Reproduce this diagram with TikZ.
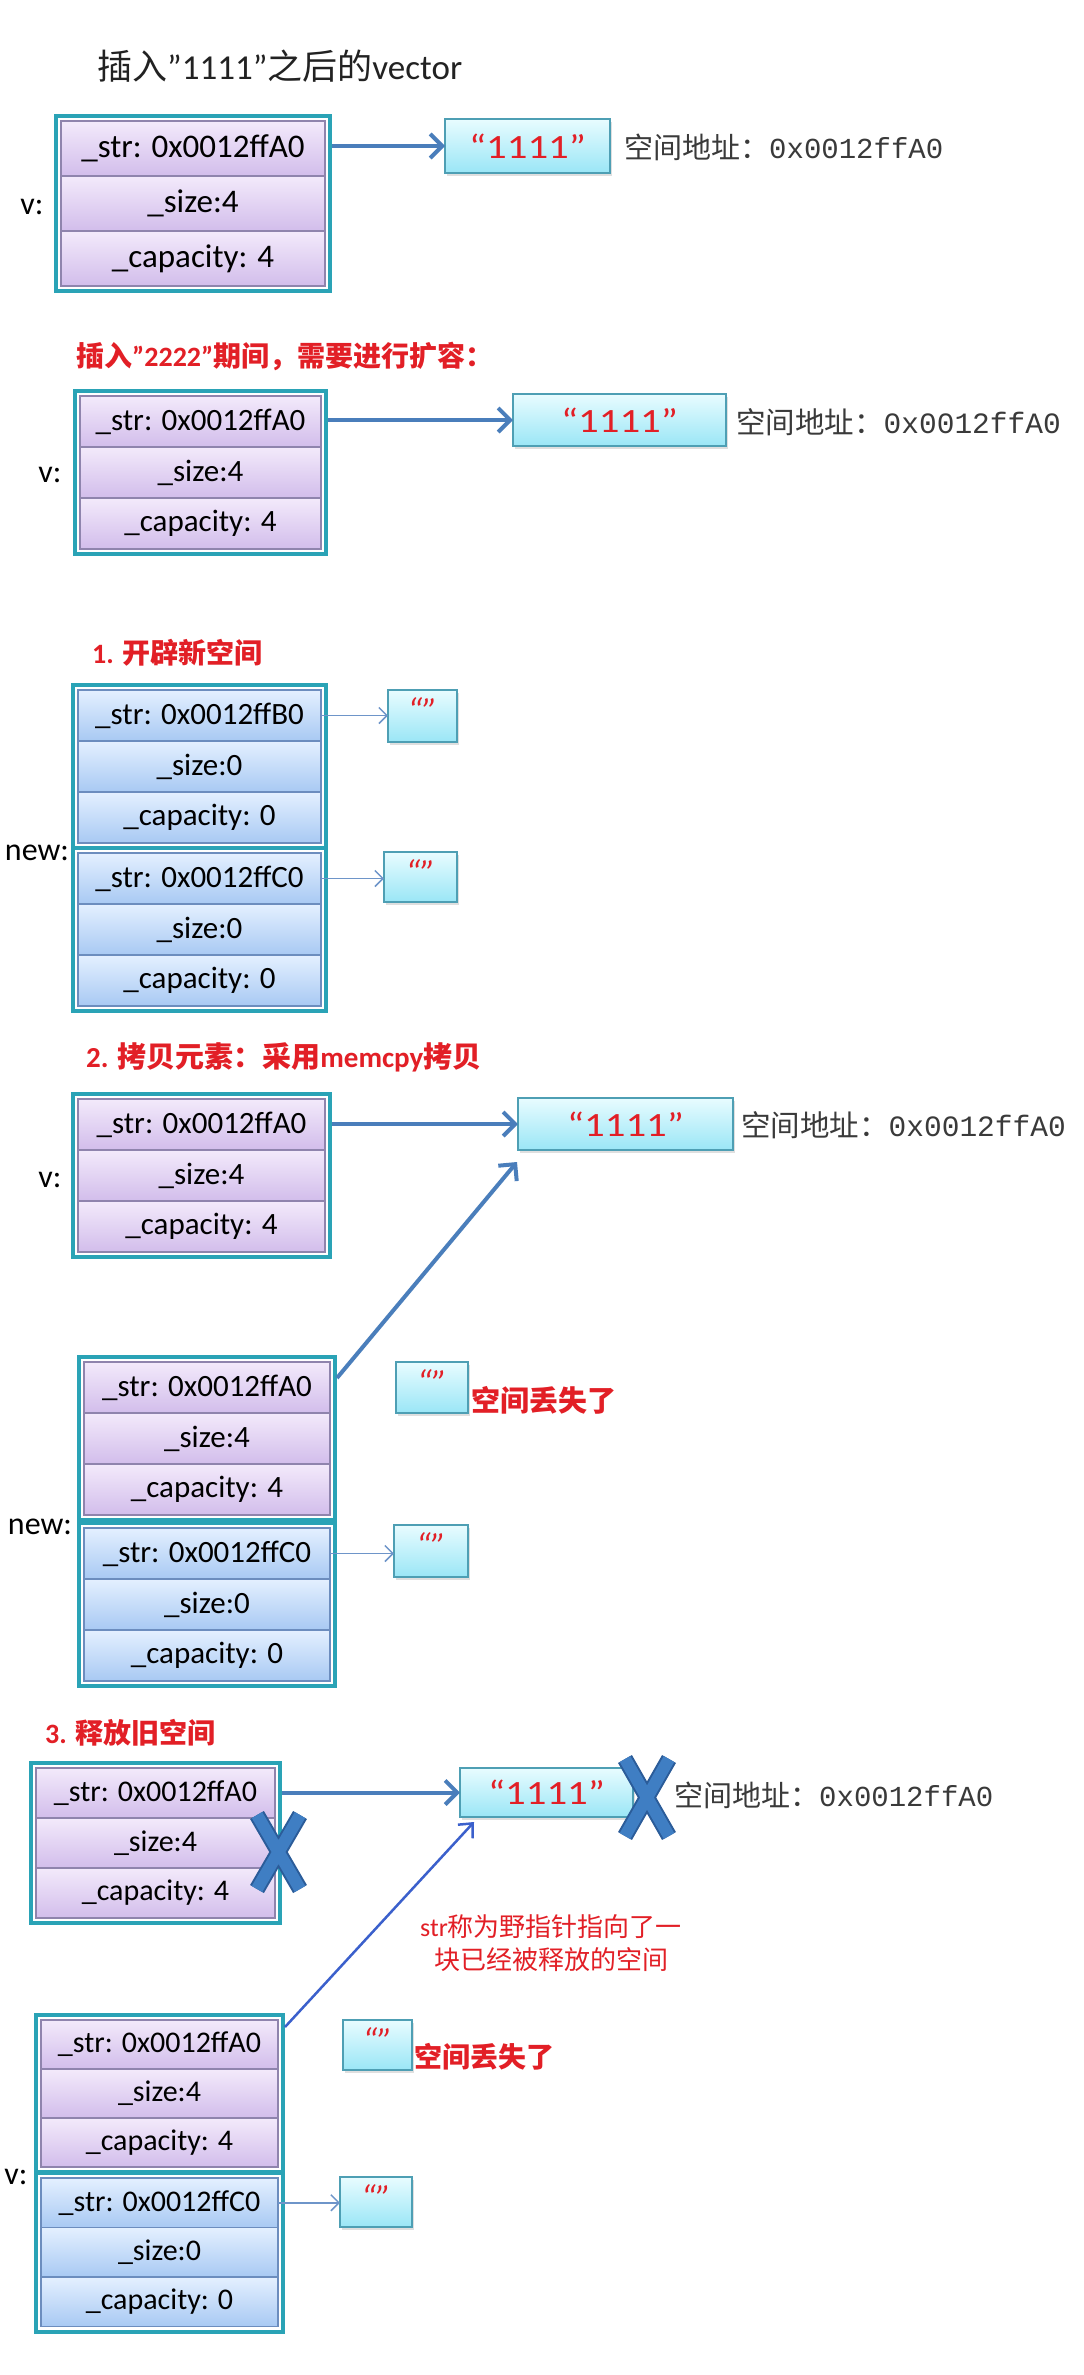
\documentclass[tikz,border=0pt]{standalone}
\usepackage{fontspec}
\usepackage{graphicx}
\setmainfont{Carlito}
\newfontfamily\cjk{Noto Sans CJK SC}
\newfontfamily\mono{Liberation Mono}
\usetikzlibrary{arrows.meta,fit,shadows}
\definecolor{tealc}{HTML}{2AA3B6}
\definecolor{prowtop}{HTML}{F3EAFB}
\definecolor{prowbot}{HTML}{D2BDEB}
\definecolor{prowline}{HTML}{8F84AD}
\definecolor{browtop}{HTML}{E4F0FF}
\definecolor{browbot}{HTML}{A8C9F3}
\definecolor{browline}{HTML}{6C8DBE}
\definecolor{cyantop}{HTML}{E8FCFF}
\definecolor{cyanbot}{HTML}{9AE6F6}
\definecolor{cyanline}{HTML}{4E9FB4}
\definecolor{arrowblue}{HTML}{4A7EBB}
\definecolor{thinblue}{HTML}{6E95C9}
\definecolor{diagblue}{HTML}{3B60CC}
\definecolor{xblue}{HTML}{3F7EC3}
\definecolor{xdark}{HTML}{2B5C99}
\definecolor{redtxt}{HTML}{E21F26}
\definecolor{addrgray}{HTML}{3A3A3A}
\definecolor{titlegray}{HTML}{222222}
\newcommand\fsz[1]{\fontsize{#1pt}{#1pt}\selectfont}
\newcommand\onestr{\scalebox{1.2}[1]{“1111”}}

\begin{document}
\begin{tikzpicture}[x=1pt,y=-1pt,
 rowbase/.style={rectangle, inner sep=0pt, outer sep=0pt, anchor=north west, line width=1.2pt, text=black},
 prow/.style={rowbase, draw=prowline, top color=prowtop, bottom color=prowbot},
 brow/.style={rowbase, draw=browline, top color=browtop, bottom color=browbot},
 outerbox/.style={rectangle, draw=tealc, line width=4pt, inner sep=5pt},
 cbox/.style={rectangle, anchor=north west, inner sep=0pt, outer sep=0pt, draw=cyanline, line width=1.2pt, top color=cyantop, bottom color=cyanbot, drop shadow={shadow xshift=1.5pt, shadow yshift=-2.5pt, opacity=0.25}},
 strtext/.style={text=redtxt, font=\fsz{34}},
 qmark/.style={text=redtxt, font=\fsz{36}\itshape, inner sep=0pt},
 addr/.style={anchor=west, inner sep=0pt, text=addrgray},
 lbl/.style={inner sep=0pt, text=black, font=\fsz{32}},
 redtitle/.style={anchor=west, inner sep=0pt, text=redtxt, font=\bfseries},
 redtext/.style={anchor=west, inner sep=0pt, text=redtxt},
 bigarrow/.style={draw=arrowblue, line width=4pt, -{Straight Barb[length=12pt,width=24pt]}},
 thinarrow/.style={draw=thinblue, line width=1.5pt, -{Straight Barb[length=8pt,width=16pt]}},
 diagarrow/.style={draw=diagblue, line width=2.5pt, -{Straight Barb[length=11pt,width=20pt]}},
 xdarkstroke/.style={draw=xdark, line width=16pt},
 xlightstroke/.style={draw=xblue, line width=12pt},
 s1row/.style={prow, minimum width=264pt, minimum height=55pt, font=\fsz{33}},
 s2row/.style={prow, minimum width=241pt, minimum height=51pt, font=\fsz{31}},
 s3row/.style={brow, minimum width=243pt, minimum height=51pt, font=\fsz{31}},
 s4prow/.style={prow, minimum width=247pt, minimum height=51pt, font=\fsz{31}},
 s4nrow/.style={prow, minimum width=246pt, minimum height=51pt, font=\fsz{31}},
 s4brow/.style={brow, minimum width=246pt, minimum height=51pt, font=\fsz{31}},
 s5prow/.style={prow, minimum width=239pt, minimum height=50pt, font=\fsz{30}},
 s5arow/.style={prow, minimum width=237pt, minimum height=49pt, font=\fsz{30}},
 s5brow/.style={brow, minimum width=237pt, minimum height=49.5pt, font=\fsz{30}},
]
\fill[white] (0,0) rectangle (1084,2375);
\useasboundingbox (0,0) rectangle (1084,2375);

% ---------------- Section 1 ----------------
\node[anchor=west, inner sep=0pt, text=titlegray, font=\fsz{35}] (t1) at (97,66) {{\cjk 插入}”1111”{\cjk 之后的}vector};
\node[s1row] (s1r1) at (61,121) {\_str: 0x0012ffA0};
\node[s1row] (s1r2) at (61,176) {\_size:4};
\node[s1row] (s1r3) at (61,231) {\_capacity: 4};
\node[outerbox, fit=(s1r1)(s1r3)] (s1o) {};
\node[lbl] (s1v) at (32,207) {v:};
\node[cbox, strtext, minimum width=165pt, minimum height=54pt] (s1b) at (445,119) {\onestr};
\draw[bigarrow] (s1o.east |- s1b.west) -- (s1b.west);
\node[addr, font=\fsz{29}] (s1a) at (624,147) {{\cjk 空间地址：}{\mono 0x0012ffA0}};

% ---------------- Section 2 ----------------
\node[redtitle] (t2) at (76,356) {\fsz{28}{\cjk 插入}”2222”{\cjk 期间，需要进行扩容：}};
\node[s2row] (s2r1) at (80,396) {\_str: 0x0012ffA0};
\node[s2row] (s2r2) at (80,447) {\_size:4};
\node[s2row] (s2r3) at (80,498) {\_capacity: 4};
\node[outerbox, fit=(s2r1)(s2r3)] (s2o) {};
\node[lbl] (s2v) at (50,475) {v:};
\node[cbox, strtext, minimum width=213pt, minimum height=52pt] (s2b) at (513,394) {\onestr};
\draw[bigarrow] (s2o.east |- s2b.west) -- (s2b.west);
\node[addr, font=\fsz{29.5}] (s2a) at (736,422) {{\cjk 空间地址：}{\mono 0x0012ffA0}};

% ---------------- Section 1b: new space ----------------
\node[redtitle] (t3) at (92,653) {\fsz{28}1. {\cjk 开辟新空间}};
\node[s3row] (s3ar1) at (78,690) {\_str: 0x0012ffB0};
\node[s3row] (s3ar2) at (78,741) {\_size:0};
\node[s3row] (s3ar3) at (78,792) {\_capacity: 0};
\node[outerbox, fit=(s3ar1)(s3ar3)] (s3ao) {};
\node[s3row] (s3br1) at (78,853) {\_str: 0x0012ffC0};
\node[s3row] (s3br2) at (78,904) {\_size:0};
\node[s3row] (s3br3) at (78,955) {\_capacity: 0};
\node[outerbox, fit=(s3br1)(s3br3)] (s3bo) {};
\node[lbl] (s3n) at (37,853) {new:};
\node[cbox, minimum width=69pt, minimum height=52pt] (s3q1) at (388,690) {};
\node[qmark] (s3q1t) at ([yshift=-21pt]s3q1.north) {“”};
\node[cbox, minimum width=73pt, minimum height=50pt] (s3q2) at (384,852) {};
\node[qmark] (s3q2t) at ([yshift=-21pt]s3q2.north) {“”};
\draw[thinarrow] (s3ar1.east) -- (s3ar1.east -| s3q1.west);
\draw[thinarrow] (s3br1.east) -- (s3br1.east -| s3q2.west);

% ---------------- Section 2b: copy ----------------
\node[redtitle] (t4) at (86,1057) {\fsz{29}2. {\cjk 拷贝元素：采用}memcpy{\cjk 拷贝}};
\node[s4prow] (s4vr1) at (78,1099) {\_str: 0x0012ffA0};
\node[s4prow] (s4vr2) at (78,1150) {\_size:4};
\node[s4prow] (s4vr3) at (78,1201) {\_capacity: 4};
\node[outerbox, fit=(s4vr1)(s4vr3)] (s4vo) {};
\node[lbl] (s4v) at (50,1180) {v:};
\node[cbox, strtext, minimum width=215pt, minimum height=52pt] (s4b) at (518,1098) {\onestr};
\draw[bigarrow] (s4vo.east |- s4b.west) -- (s4b.west);
\node[addr, font=\fsz{29.5}] (s4a) at (741,1125) {{\cjk 空间地址：}{\mono 0x0012ffA0}};

\node[s4nrow] (s4ar1) at (84,1362) {\_str: 0x0012ffA0};
\node[s4nrow] (s4ar2) at (84,1413) {\_size:4};
\node[s4nrow] (s4ar3) at (84,1464) {\_capacity: 4};
\node[outerbox, fit=(s4ar1)(s4ar3)] (s4ao) {};
\node[s4brow] (s4br1) at (84,1528) {\_str: 0x0012ffC0};
\node[s4brow] (s4br2) at (84,1579) {\_size:0};
\node[s4brow] (s4br3) at (84,1630) {\_capacity: 0};
\node[outerbox, fit=(s4br1)(s4br3)] (s4bo) {};
\node[lbl] (s4n) at (40,1527) {new:};
\node[cbox, minimum width=72pt, minimum height=51pt] (s4q1) at (396,1362) {};
\node[qmark] (s4q1t) at ([yshift=-21pt]s4q1.north) {“”};
\node[redtext, font=\fsz{29}\bfseries] (s4l) at (471,1400) {\cjk 空间丢失了};
\node[cbox, minimum width=74pt, minimum height=52pt] (s4q2) at (394,1525) {};
\node[qmark] (s4q2t) at ([yshift=-21pt]s4q2.north) {“”};
\draw[thinarrow] (s4br1.east) -- (s4br1.east -| s4q2.west);
\draw[bigarrow] ([yshift=-23pt]s4ao.north east) -- ([xshift=-1pt,yshift=-12pt]s4b.south west);

% ---------------- Section 3: free old ----------------
\node[redtitle] (t5) at (45,1733) {\fsz{28}3. {\cjk 释放旧空间}};
\node[s5prow] (s5vr1) at (36,1768) {\_str: 0x0012ffA0};
\node[s5prow] (s5vr2) at (36,1818) {\_size:4};
\node[s5prow] (s5vr3) at (36,1868) {\_capacity: 4};
\node[outerbox, fit=(s5vr1)(s5vr3)] (s5vo) {};
\node[cbox, strtext, minimum width=173pt, minimum height=49pt] (s5b) at (460,1768) {\onestr};
\draw[bigarrow] (s5vo.east |- s5b.west) -- (s5b.west);
\node[addr, font=\fsz{29}] (s5a) at (674,1795) {{\cjk 空间地址：}{\mono 0x0012ffA0}};
\node[align=center, inner sep=0pt, text=redtxt, font={\fontsize{26pt}{33pt}\selectfont}] (s5note) at (551,1943) {str{\cjk 称为野指针指向了一}\\{\cjk 块已经被释放的空间}};

\node[s5arow] (s5ar1) at (41,2020) {\_str: 0x0012ffA0};
\node[s5arow] (s5ar2) at (41,2069) {\_size:4};
\node[s5arow] (s5ar3) at (41,2118) {\_capacity: 4};
\node[outerbox, fit=(s5ar1)(s5ar3)] (s5ao) {};
\node[s5brow] (s5br1) at (41,2178) {\_str: 0x0012ffC0};
\node[s5brow] (s5br2) at (41,2227.5) {\_size:0};
\node[s5brow] (s5br3) at (41,2277) {\_capacity: 0};
\node[outerbox, fit=(s5br1)(s5br3)] (s5bo) {};
\node[lbl] (s5v) at (16,2177) {v:};
\node[cbox, minimum width=69pt, minimum height=50pt] (s5q1) at (343,2020) {};
\node[qmark] (s5q1t) at ([yshift=-21pt]s5q1.north) {“”};
\node[redtext, font=\fsz{28}\bfseries] (s5l) at (414,2057) {\cjk 空间丢失了};
\node[cbox, minimum width=72pt, minimum height=50pt] (s5q2) at (340,2177) {};
\node[qmark] (s5q2t) at ([yshift=-21pt]s5q2.north) {“”};
\draw[thinarrow] (s5br1.east) -- (s5br1.east -| s5q2.west);
\draw[diagarrow] ([yshift=-14pt]s5ao.north east) -- ([xshift=14pt,yshift=-5pt]s5b.south west);

% X marks
\draw[xdarkstroke] (625,1759) -- (669,1836) (669,1759) -- (625,1836);
\draw[xlightstroke] (625,1759) -- (669,1836) (669,1759) -- (625,1836);
\draw[xdarkstroke] (257,1815) -- (300,1889) (300,1815) -- (257,1889);
\draw[xlightstroke] (257,1815) -- (300,1889) (300,1815) -- (257,1889);
\end{tikzpicture}
\end{document}
